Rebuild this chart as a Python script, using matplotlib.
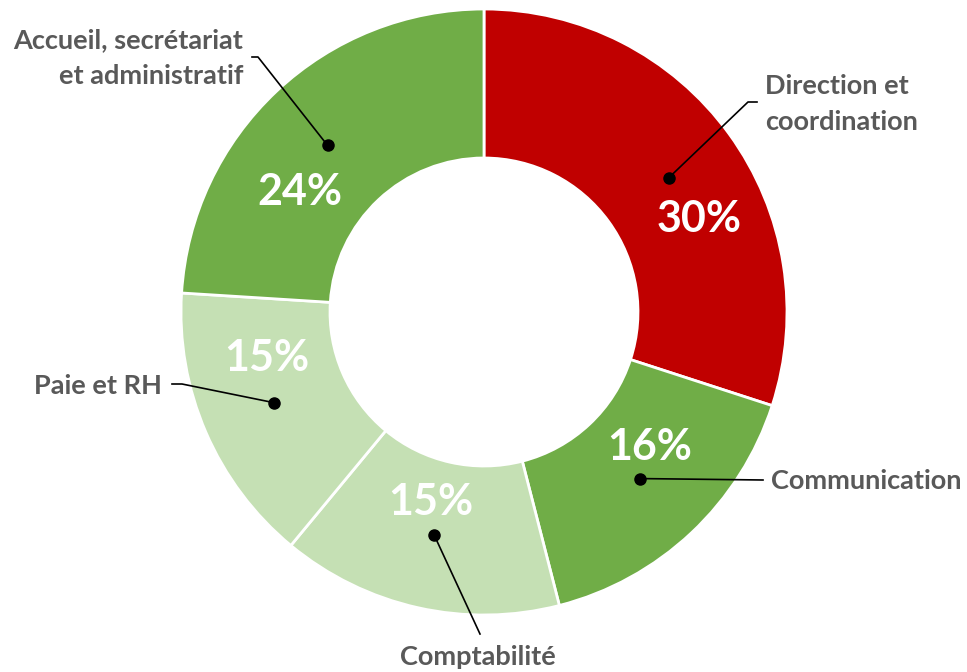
import numpy as np
import matplotlib.pyplot as plt

# donnees
categories = ['Direction et\ncoordination', 'Communication', 'Comptabilité',
              'Paie et RH', 'Accueil, secrétariat\net administratif']
valeurs = [30, 16, 15, 15, 24]
couleurs = ['#C00000', '#70AD47', '#C5E0B4', '#C5E0B4', '#70AD47']

W, H = 967, 672
cx, cy = 484, H - 312
R, r_in = 303, 154

# position des pourcentages et des noms (pixels, y vers le bas)
pos_pct = [(699, 219), (650, 447), (431, 502), (267, 358), (300, 192)]
pos_nom = [(765, 104, 'left'), (771, 481, 'left'), (478, 657, 'center'),
           (162, 386, 'right'), (243, 58, 'right')]
coude = [[(757, 102), (748, 102)], [(763, 480)], [(480, 634)],
         [(172, 384), (182, 384)], [(252, 57), (258, 57)]]

plt.rcParams['font.family'] = ['Lato', 'DejaVu Sans']

fig = plt.figure(figsize=(W / 100, H / 100), dpi=100)
ax = fig.add_axes([0, 0, 1, 1])

wedges, _ = ax.pie(valeurs, colors=couleurs, startangle=90, counterclock=False,
                   center=(cx, cy), radius=R, frame=True,
                   wedgeprops=dict(width=R - r_in, edgecolor='white', linewidth=2))
ax.set_xlim(0, W)
ax.set_ylim(0, H)
ax.set_aspect('equal')
ax.axis('off')

r_mid = (R + r_in) / 2
for i, w in enumerate(wedges):
    a = np.deg2rad((w.theta1 + w.theta2) / 2)
    px, py = cx + r_mid * np.cos(a), cy + r_mid * np.sin(a)
    # pourcentage
    x, y = pos_pct[i]
    ax.text(x, H - y, '{}%'.format(valeurs[i]), color='white', fontsize=31,
            fontweight='bold', ha='center', va='center')
    # nom + ligne de rappel
    pts = [(px, py)] + [(u, H - v) for u, v in coude[i][::-1]]
    ax.plot([p[0] for p in pts], [p[1] for p in pts], color='black', lw=1.2)
    ax.plot(px, py, 'o', color='black', ms=8)
    x, y, ha = pos_nom[i]
    ax.text(x, H - y, categories[i], color='#595959', fontsize=19.5,
            fontweight='bold', ha=ha, va='center', linespacing=1.55,
            multialignment=ha)

fig.savefig('out.png', dpi=100)
